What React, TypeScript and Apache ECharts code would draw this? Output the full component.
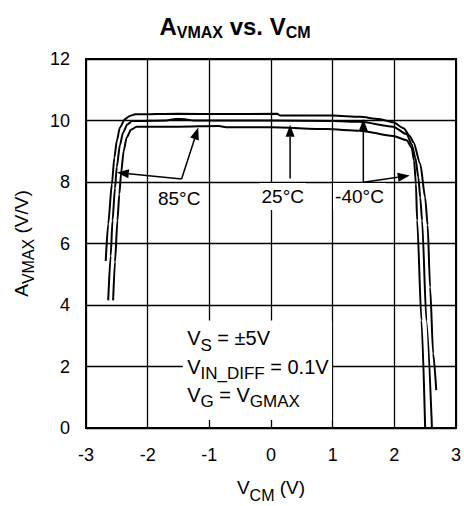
import React, { useEffect, useRef } from "react";
import * as echarts from "echarts";

const FONT = "'Liberation Sans', Arial, Helvetica, sans-serif";

// axes
const xMin = -3;
const xMax = 3;
const xStep = 1;
const yMin = 0;
const yMax = 12;
const yStep = 2;

// A_VMAX (V/V) vs V_CM (V)
const curveMinus40: [number, number][] = [
  [-2.68, 5.43], [-2.64, 6.64], [-2.58, 7.94], [-2.54, 8.8], [-2.5, 9.34],
  [-2.45, 9.77], [-2.37, 10.04], [-2.29, 10.15], [-2.2, 10.2], [-1.5, 10.22],
  [-0.8, 10.21], [0.1, 10.22], [0.15, 10.16], [1.0, 10.16], [1.44, 10.12],
  [1.75, 10.05], [1.98, 9.94], [2.15, 9.75], [2.25, 9.5], [2.31, 9.29],
  [2.42, 8.59], [2.5, 7.5], [2.54, 6.6], [2.58, 4.58], [2.63, 2.42], [2.68, 1.23],
];
const curve25: [number, number][] = [
  [-2.64, 4.15], [-2.6, 5.6], [-2.57, 6.75], [-2.53, 7.8], [-2.5, 8.5],
  [-2.45, 9.2], [-2.4, 9.6], [-2.33, 9.87], [-2.25, 9.98], [-1.7, 10.0],
  [-1.55, 10.05], [-1.4, 10.04], [-1.25, 10.0], [0, 10.0], [1.0, 9.98],
  [1.44, 9.96], [1.98, 9.8], [2.2, 9.56], [2.28, 9.23], [2.34, 8.8],
  [2.39, 8.15], [2.42, 7.5], [2.45, 6.75], [2.52, 3.5], [2.61, 0],
];
const curve85: [number, number][] = [
  [-2.56, 4.15], [-2.53, 5.4], [-2.49, 6.75], [-2.46, 7.6], [-2.43, 8.3],
  [-2.39, 9.0], [-2.34, 9.45], [-2.27, 9.7], [-2.18, 9.8], [-1.5, 9.8],
  [-0.85, 9.82], [-0.7, 9.78], [0, 9.78], [0.9, 9.72], [1.44, 9.67],
  [1.98, 9.5], [2.2, 9.36], [2.28, 9.12], [2.32, 8.69], [2.35, 7.94],
  [2.37, 6.75], [2.44, 3.5], [2.5, 0],
];

// annotation labels & arrows (data coordinates)
const tempLabels = [
  { text: "85°C", at: [-1.49, 7.46] },
  { text: "25°C", at: [0.19, 7.53] },
  { text: "-40°C", at: [1.435, 7.53] },
];
const arrows = [
  { from: [-1.45, 8.1], to: [-1.18, 9.77] },
  { from: [-1.45, 8.1], to: [-2.5, 8.31] },
  { from: [0.31, 8.11], to: [0.31, 9.86] },
  { from: [1.497, 7.99], to: [1.497, 10.05] },
  { from: [1.497, 7.99], to: [2.25, 8.21] },
];
type Run = { t: string; sub?: boolean };
const conditionLines: Run[][] = [
  [{ t: "V" }, { t: "S", sub: true }, { t: " = ±5V" }],
  [{ t: "V" }, { t: "IN_DIFF", sub: true }, { t: " = 0.1V" }],
  [{ t: "V" }, { t: "G", sub: true }, { t: " = V" }, { t: "GMAX", sub: true }],
];
const titleRuns: Run[] = [{ t: "A" }, { t: "VMAX", sub: true }, { t: " vs. V" }, { t: "CM", sub: true }];
const xNameRuns: Run[] = [{ t: "V" }, { t: "CM", sub: true }, { t: " (V)" }];
const yNameRuns: Run[] = [{ t: "A" }, { t: "VMAX", sub: true }, { t: " (V/V)" }];
const conditionBaselines = [2.69, 1.77, 0.85];
const conditionLeft = -1.36;
const conditionBox = [[-1.43, 3.5], [0.99, 0.26]];

const measureCtx = (() => {
  const c = document.createElement("canvas");
  return c.getContext("2d")!;
})();
function textWidth(t: string, fs: number, bold: boolean) {
  measureCtx.font = `${bold ? "bold " : ""}${fs}px ${FONT}`;
  return measureCtx.measureText(t).width;
}

// builds a group whose local origin is at the text baseline; anchor left/center
function runsGroup(
  runs: Run[],
  opts: { main: number; sub: number; subDy: number; bold?: boolean; anchor: "left" | "center"; x: number; y: number; rotation?: number }
) {
  const bold = !!opts.bold;
  const widths = runs.map((r) => textWidth(r.t, r.sub ? opts.sub : opts.main, bold));
  const total = widths.reduce((a, b) => a + b, 0);
  let cx = opts.anchor === "center" ? -total / 2 : 0;
  const children: any[] = [];
  runs.forEach((r, i) => {
    const fs = r.sub ? opts.sub : opts.main;
    const baseline = r.sub ? opts.subDy : 0;
    children.push({
      type: "text",
      x: cx,
      y: baseline - 0.3465 * fs,
      z: 100,
      style: {
        text: r.t,
        fontSize: fs,
        fontFamily: FONT,
        fontWeight: bold ? "bold" : "normal",
        fill: "#000",
        align: "left",
        verticalAlign: "middle",
      },
    });
    cx += widths[i];
  });
  return { type: "group", x: opts.x, y: opts.y, rotation: opts.rotation || 0, z: 100, children };
}

export default function App() {
  const ref = useRef<HTMLDivElement>(null);
  useEffect(() => {
    const el = ref.current!;
    const chart = echarts.init(el, null, { renderer: "svg" });
    const lineSeries = (name: string, data: [number, number][]) => ({
      type: "line",
      name,
      data,
      showSymbol: false,
      symbol: "none",
      smooth: 0.25,
      smoothMonotone: "x",
      lineStyle: { color: "#000", width: 2 },
      z: 5,
    });
    chart.setOption({
      animation: false,
      backgroundColor: "#fff",
      grid: { left: 86, right: 8, top: 59, bottom: 78, show: true, borderColor: "#000", borderWidth: 2 },
      xAxis: {
        type: "value",
        min: xMin,
        max: xMax,
        interval: xStep,
        axisLine: { show: true, onZero: false, lineStyle: { color: "#000", width: 2 } },
        axisTick: { show: false },
        splitLine: { show: true, lineStyle: { color: "#000", width: 1.3 } },
        axisLabel: { color: "#000", fontSize: 18, fontFamily: FONT, margin: 18 },
      },
      yAxis: {
        type: "value",
        min: yMin,
        max: yMax,
        interval: yStep,
        axisLine: { show: true, onZero: false, lineStyle: { color: "#000", width: 2 } },
        axisTick: { show: false },
        splitLine: { show: true, lineStyle: { color: "#000", width: 1.3 } },
        axisLabel: { color: "#000", fontSize: 18, fontFamily: FONT, margin: 16 },
      },
      series: [
        lineSeries("-40°C", curveMinus40),
        lineSeries("25°C", curve25),
        lineSeries("85°C", curve85),
      ],
    });

    const px = (p: number[]) => chart.convertToPixel({ gridIndex: 0 }, p) as number[];
    const g: any[] = [];

    // title
    g.push(runsGroup(titleRuns, { main: 24, sub: 16, subDy: 3.5, bold: true, anchor: "center", x: 235, y: 35 }));

    // x axis name
    const [xc, yb] = px([0, 0]);
    g.push(runsGroup(xNameRuns, { main: 19, sub: 16, subDy: 7, anchor: "center", x: xc, y: yb + 66 }));
    // y axis name
    const [xl, ym] = px([xMin, 6]);
    g.push(
      runsGroup(yNameRuns, { main: 19, sub: 16, subDy: 6, anchor: "center", x: xl - 58, y: ym, rotation: Math.PI / 2 })
    );

    // conditions box
    const b0 = px(conditionBox[0]);
    const b1 = px(conditionBox[1]);
    g.push({
      type: "rect",
      z: 90,
      shape: { x: b0[0], y: b0[1], width: b1[0] - b0[0], height: b1[1] - b0[1] },
      style: { fill: "#fff" },
    });
    conditionLines.forEach((runs, i) => {
      const p = px([conditionLeft, conditionBaselines[i]]);
      g.push(runsGroup(runs, { main: 20, sub: 17, subDy: 6, anchor: "left", x: p[0], y: p[1] }));
    });

    // temperature labels
    tempLabels.forEach((l) => {
      const p = px(l.at);
      g.push({
        type: "text",
        x: p[0],
        y: p[1],
        z: 100,
        style: {
          text: l.text,
          fontSize: 19,
          fontFamily: FONT,
          fill: "#000",
          align: "center",
          verticalAlign: "middle",
          backgroundColor: "#fff",
          padding: [4, 2, 4, 2],
        },
      });
    });

    // arrows
    arrows.forEach((a) => {
      const f = px(a.from);
      const t = px(a.to);
      const dx = t[0] - f[0];
      const dy = t[1] - f[1];
      const len = Math.hypot(dx, dy);
      const ux = dx / len;
      const uy = dy / len;
      const hl = 12;
      const hw = 4.5;
      const bx = t[0] - ux * hl;
      const by = t[1] - uy * hl;
      g.push({
        type: "line",
        z: 110,
        shape: { x1: f[0], y1: f[1], x2: bx, y2: by },
        style: { stroke: "#000", lineWidth: 1.5 },
      });
      g.push({
        type: "polygon",
        z: 110,
        shape: {
          points: [
            [t[0], t[1]],
            [bx - uy * hw, by + ux * hw],
            [bx + uy * hw, by - ux * hw],
          ],
        },
        style: { fill: "#000" },
      });
    });

    chart.setOption({ graphic: g });
    return () => chart.dispose();
  }, []);
  return (
    <div
      ref={ref}
      style={{ position: "absolute", left: 0, top: 0, width: 464, height: 506, background: "#fff" }}
    />
  );
}
